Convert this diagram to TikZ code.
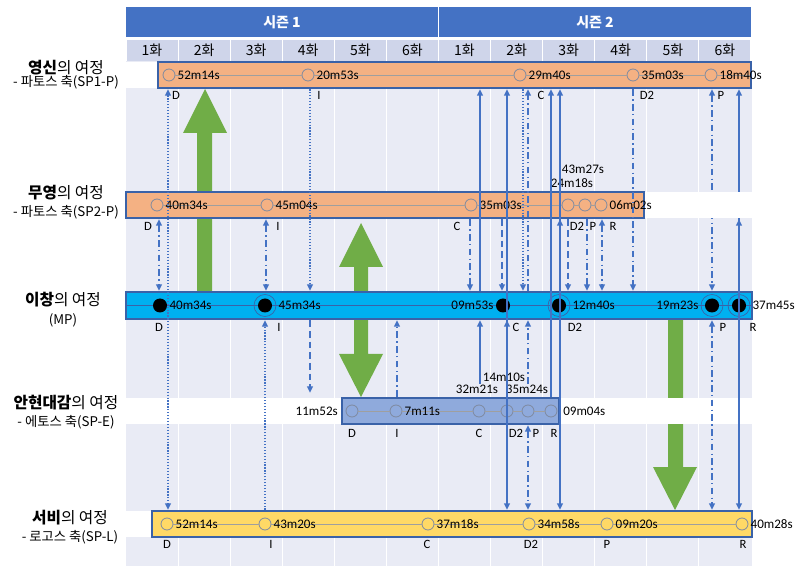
\documentclass[tikz,border=0pt]{standalone}
\usepackage{fontspec}
\setmainfont{Carlito}
\newfontfamily\kr{Noto Sans CJK KR}
\usetikzlibrary{arrows.meta}
\definecolor{hdrblue}{HTML}{4472C4}
\definecolor{epi}{HTML}{CFD5EA}
\definecolor{lav}{HTML}{E9EBF5}
\definecolor{orng}{HTML}{F4B183}
\definecolor{cyanb}{HTML}{00B0F0}
\definecolor{blueb}{HTML}{8FAADC}
\definecolor{yel}{HTML}{FFD966}
\definecolor{grn}{HTML}{70AD47}
\definecolor{edge}{HTML}{3A62A8}
\definecolor{conn}{HTML}{4472C4}
\definecolor{circ}{HTML}{7F8AA0}
\begin{document}
\begin{tikzpicture}[x=0.75pt,y=-0.75pt,
 >={Triangle[length=4.8pt,width=4.5pt]},
 hdr/.style={fill=hdrblue,text=white,minimum width=234pt,minimum height=22.5pt,inner sep=0pt,font=\kr\bfseries\fontsize{10.5}{12}\selectfont},
 epcell/.style={fill=epi,minimum width=38.3pt,minimum height=15.75pt,inner sep=0pt,font=\kr\fontsize{10.5}{12}\selectfont},
 ttl/.style={inner sep=0pt,font=\kr\fontsize{11.8}{13}\selectfont},
 sub/.style={inner sep=0pt,font=\kr\fontsize{10}{12}\selectfont},
 bar/.style={draw=edge,line width=0.8pt,inner sep=0pt,outer sep=0pt},
 oc/.style={circle,draw=circ,line width=0.6pt,minimum size=9pt,inner sep=0pt},
 bc/.style={circle,fill=black,minimum size=10.5pt,inner sep=0pt},
 ring/.style={circle,draw=edge,line width=0.5pt,minimum size=16.5pt,inner sep=0pt},
 tm/.style={inner sep=0pt,font=\fontsize{9.8}{11}\selectfont},
 tr/.style={tm,anchor=west,xshift=1.5pt},
 tl/.style={tm,anchor=east,xshift=-1.5pt},
 ev/.style={inner sep=0pt,font=\fontsize{9.5}{11}\selectfont},
 cl/.style={draw=gray!75,line width=0.5pt},
 sl/.style={draw=conn,line width=1.1pt,shorten >=1pt,shorten <=1pt},
 dt/.style={sl,dash pattern=on 0.9pt off 1.3pt,line width=1pt},
 dd/.style={sl,dash pattern=on 5pt off 2.5pt on 1pt off 2.5pt},
 ds/.style={sl,dash pattern=on 5pt off 3pt}
]
\useasboundingbox (0,0) rectangle (796,566);
\fill[white] (0,0) rectangle (796,566);

% header
\node[hdr] (s1) at (282,22) {시즌 1};
\node[hdr] (s2) at (595,22) {시즌 2};
\foreach \i/\t in {1/1,2/2,3/3,4/4,5/5,6/6,7/1,8/2,9/3,10/4,11/5,12/6}
  \node[epcell] (ep\i) at ({126+52.08*(\i-0.5)},50.5) {\t 화};

% background grid
\fill[lav] (126,61) rectangle (752,566);
\foreach \k in {1,...,11}
  \draw[white,line width=0.8pt] ({126+52.08*\k},61) -- ({126+52.08*\k},566);

% green block arrows
\fill[grn] (197,292) -- (197,133) -- (183,133) -- (205,89) -- (227,133) -- (212,133) -- (212,292) -- cycle;
\fill[grn] (354,292) -- (354,267) -- (339,267) -- (361,223) -- (383,267) -- (368,267) -- (368,292) -- cycle;
\fill[grn] (354,319) -- (354,354) -- (339,354) -- (361,397) -- (383,354) -- (368,354) -- (368,319) -- cycle;
\fill[grn] (668,319) -- (668,467) -- (653,467) -- (675,510) -- (697,467) -- (683,467) -- (683,319) -- cycle;

% row bands
\fill[white] (126,62) rectangle (752,88);
\fill[white] (126,398) rectangle (752,424);
\fill[white] (126,511) rectangle (752,537);

% row labels
\node[ttl] (n1) at (66,68) {\textbf{영신}의 여정};
\node[sub] (n1s) at (66,82) {- 파토스 축(SP1-P)};
\node[ttl] (n2) at (66,193) {\textbf{무영}의 여정};
\node[sub] (n2s) at (66,212) {- 파토스 축(SP2-P)};
\node[ttl] (n3) at (63,300) {\textbf{이창}의 여정};
\node[sub] (n3s) at (63,320) {(MP)};
\node[ttl] (n4) at (66,403) {\textbf{안현대감}의 여정};
\node[sub] (n4s) at (66,422) {- 에토스 축(SP-E)};
\node[ttl] (n5) at (70,518) {\textbf{서비}의 여정};
\node[sub] (n5s) at (70,537) {- 로고스 축(SP-L)};

% bars
\node[bar,fill=orng,minimum width=444.75pt,minimum height=19.5pt] (b1) at (454.5,75) {};
\node[bar,fill=orng,minimum width=388.5pt,minimum height=19.5pt] (b2) at (385,205) {};
\node[bar,fill=cyanb,minimum width=469.5pt,minimum height=20.25pt] (b3) at (439,305.5) {};
\node[bar,fill=blueb,minimum width=162.75pt,minimum height=19.5pt] (b4) at (450.5,411) {};
\node[bar,fill=yel,minimum width=450pt,minimum height=19.5pt] (b5) at (452,524) {};

% B1 events
\node[oc] (c1a) at (169,75) {};
\node[oc] (c1b) at (308,75) {};
\node[oc] (c1c) at (520,75) {};
\node[oc] (c1d) at (633,75) {};
\node[oc] (c1e) at (711,75) {};
\draw[cl] (c1a) -- (c1b) -- (c1c) -- (c1d) -- (c1e) -- (b1.east);
\node[tr] (t1a) at (c1a.east) {52m14s};
\node[tr] (t1b) at (c1b.east) {20m53s};
\node[tr] (t1c) at (c1c.east) {29m40s};
\node[tr] (t1d) at (c1d.east) {35m03s};
\node[tr] (t1e) at (c1e.east) {18m40s};
\node[ev] (l1a) at (176,95) {D};
\node[ev] (l1b) at (319,95) {I};
\node[ev] (l1c) at (541,95) {C};
\node[ev] (l1d) at (647,95) {D2};
\node[ev] (l1e) at (721,95) {P};

% B2 events
\node[oc] (c2a) at (157,205) {};
\node[oc] (c2b) at (267,205) {};
\node[oc] (c2c) at (471,205) {};
\node[oc] (c2d) at (568,205) {};
\node[oc] (c2e) at (585,205) {};
\node[oc] (c2f) at (601,205) {};
\draw[cl] (c2a) -- (c2b) -- (c2c) -- (c2d) -- (c2e) -- (c2f);
\node[tr] (t2a) at (c2a.east) {40m34s};
\node[tr] (t2b) at (c2b.east) {45m04s};
\node[tr] (t2c) at (c2c.east) {35m03s};
\node[tm] (t2d) at (572,183.5) {24m18s};
\node[tm] (t2e) at (583,169.5) {43m27s};
\node[ev] (l2a) at (148,226) {D};
\node[ev] (l2b) at (278,226) {I};
\node[ev] (l2c) at (457,226) {C};
\node[ev] (l2d) at (577,226) {D2};
\node[ev] (l2e) at (593,226) {P};
\node[ev] (l2f) at (613,226) {R};

% B3 events
\draw[draw=edge,line width=0.4pt] (b3.west) -- (b3.east);
\node[bc] (c3a) at (160,305.5) {};
\node[bc] (c3b) at (265,305.5) {};
\node[ring] (r3b) at (265,305.5) {};
\node[bc] (c3c) at (503,305.5) {};
\node[bc] (c3d) at (559,305.5) {};
\node[ring] (r3d) at (559,305.5) {};
\node[bc] (c3e) at (712,305.5) {};
\node[ring] (r3e) at (712,305.5) {};
\node[bc] (c3f) at (739,305.5) {};
\node[ring] (r3f) at (739,305.5) {};
\node[tr] (t3a) at (c3a.east) {40m34s};
\node[tr] (t3b) at (r3b.east) {45m34s};
\node[tl] (t3c) at (c3c.west) {09m53s};
\node[tr] (t3d) at (r3d.east) {12m40s};
\node[tl] (t3e) at (r3e.west) {19m23s};
\node[tr] (t3f) at (r3f.east) {37m45s};
\node[ev] (l3a) at (159,327) {D};
\node[ev] (l3b) at (279,327) {I};
\node[ev] (l3c) at (516,327) {C};
\node[ev] (l3d) at (575,327) {D2};
\node[ev] (l3e) at (723,327) {P};
\node[ev] (l3f) at (753,327) {R};

% B4 events
\node[oc] (c4a) at (352,411) {};
\node[oc] (c4b) at (396,411) {};
\node[oc] (c4c) at (479,411) {};
\node[oc] (c4d) at (507,411) {};
\node[oc] (c4e) at (528,411) {};
\node[oc] (c4f) at (551,411) {};
\draw[cl] (c4a) -- (c4b) -- (c4c) -- (c4d) -- (c4e) -- (c4f);
\node[tm,anchor=east] (t4a) at (338,411) {11m52s};
\node[tr] (t4b) at (c4b.east) {7m11s};
\node[tm,anchor=west] (t4f) at (563,411) {09m04s};
\node[tm] (t4c) at (477,389.5) {32m21s};
\node[tm] (t4d) at (504,377.5) {14m10s};
\node[tm] (t4e) at (527,389.5) {35m24s};
\node[ev] (l4a) at (352,433) {D};
\node[ev] (l4b) at (397,433) {I};
\node[ev] (l4c) at (479,433) {C};
\node[ev] (l4d) at (516,433) {D2};
\node[ev] (l4e) at (536,433) {P};
\node[ev] (l4f) at (554,433) {R};

% B5 events
\node[oc] (c5a) at (167,524) {};
\node[oc] (c5b) at (265,524) {};
\node[oc] (c5c) at (428,524) {};
\node[oc] (c5d) at (529,524) {};
\node[oc] (c5e) at (607,524) {};
\node[oc] (c5f) at (742,524) {};
\draw[cl] (c5a) -- (c5b) -- (c5c) -- (c5d) -- (c5e) -- (c5f);
\node[tr] (t5a) at (c5a.east) {52m14s};
\node[tr] (t5b) at (c5b.east) {43m20s};
\node[tr] (t5c) at (c5c.east) {37m18s};
\node[tr] (t5d) at (c5d.east) {34m58s};
\node[tr] (t5e) at (c5e.east) {09m20s};
\node[tr] (t5f) at (c5f.east) {40m28s};
\node[ev] (l5a) at (167,544) {D};
\node[ev] (l5b) at (271,544) {I};
\node[ev] (l5c) at (427,544) {C};
\node[ev] (l5d) at (531,544) {D2};
\node[ev] (l5e) at (607,544) {P};
\node[ev] (l5f) at (743,544) {R};

% connector x positions
\foreach \x in {159,168,265,266,310,397,470,480,502,507,523,528,551,560,568,587,602,633,712,739}
  \coordinate (v\x) at (\x,0);
\coordinate (e1152) at (310,394);

% season 1 connectors
\draw[dd,<->] (v159 |- b2.south) -- (v159 |- b3.north);
\draw[dt,<->] (v168 |- b1.south) -- (v168 |- b5.north);
\draw[dd,<->] (v266 |- b2.south) -- (v266 |- b3.north);
\draw[dt,->] (v265 |- b5.north) -- (v265 |- b3.south);
\draw[dt,->] (v310 |- b1.south) -- (v310 |- b3.north);
\draw[ds,->] (v310 |- b3.south) -- (e1152);
\draw[dd,->] (v397 |- b4.north) -- (v397 |- b3.south);

% season 2 connectors
\draw[dd,->] (v470 |- b2.south) -- (v470 |- b3.north);
\draw[sl,->] (v480 |- b3.north) -- (v480 |- b1.south);
\draw[sl,->] (v480 |- t4c.north) -- (v480 |- b3.south);
\draw[ds,->] (v502 |- b2.south) -- (v502 |- b3.north);
\draw[sl,<->] (v507 |- b1.south) -- (v507 |- b5.north);
\draw[sl,->] (v507 |- b4.north) -- (v507 |- b3.south);
\draw[dt,->] (v523 |- b1.south) -- (v523 |- b3.north);
\draw[dd,->] (v528 |- b3.north) -- (v528 |- b1.south);
\draw[dd,->] (v528 |- t4e.north) -- (v528 |- b3.south);
\draw[dd,<->] (v528 |- b4.south) -- (v528 |- b5.north);
\draw[sl,->] (v551 |- b4.north) -- (v551 |- b1.south);
\draw[sl,<->] (v560 |- b1.south) -- (v560 |- b5.north);
\draw[sl,->] (v560 |- b3.north) -- (v560 |- b2.south);
\draw[ds,->] (v568 |- b2.south) -- (v568 |- b3.north);
\draw[dd,->] (v587 |- b2.south) -- (v587 |- b3.north);
\draw[dd,<->] (v602 |- b2.south) -- (v602 |- b3.north);
\draw[dd,->] (v633 |- b1.south) -- (v633 |- b3.north);
\draw[dd,<->] (v712 |- b1.south) -- (v712 |- b3.north);
\draw[dd,<->] (v712 |- b3.south) -- (v712 |- b5.north);
\draw[sl,<->] (v739 |- b1.south) -- (v739 |- b5.north);
\draw[sl,->] (v739 |- b3.north) -- (v739 |- b2.south);

% white band right of the second bar (covers connectors)
\fill[white] ([xshift=0.5pt]b2.north east) rectangle (752,218);
\node[tr] (t2f) at (c2f.east) {06m02s};
\end{tikzpicture}
\end{document}
